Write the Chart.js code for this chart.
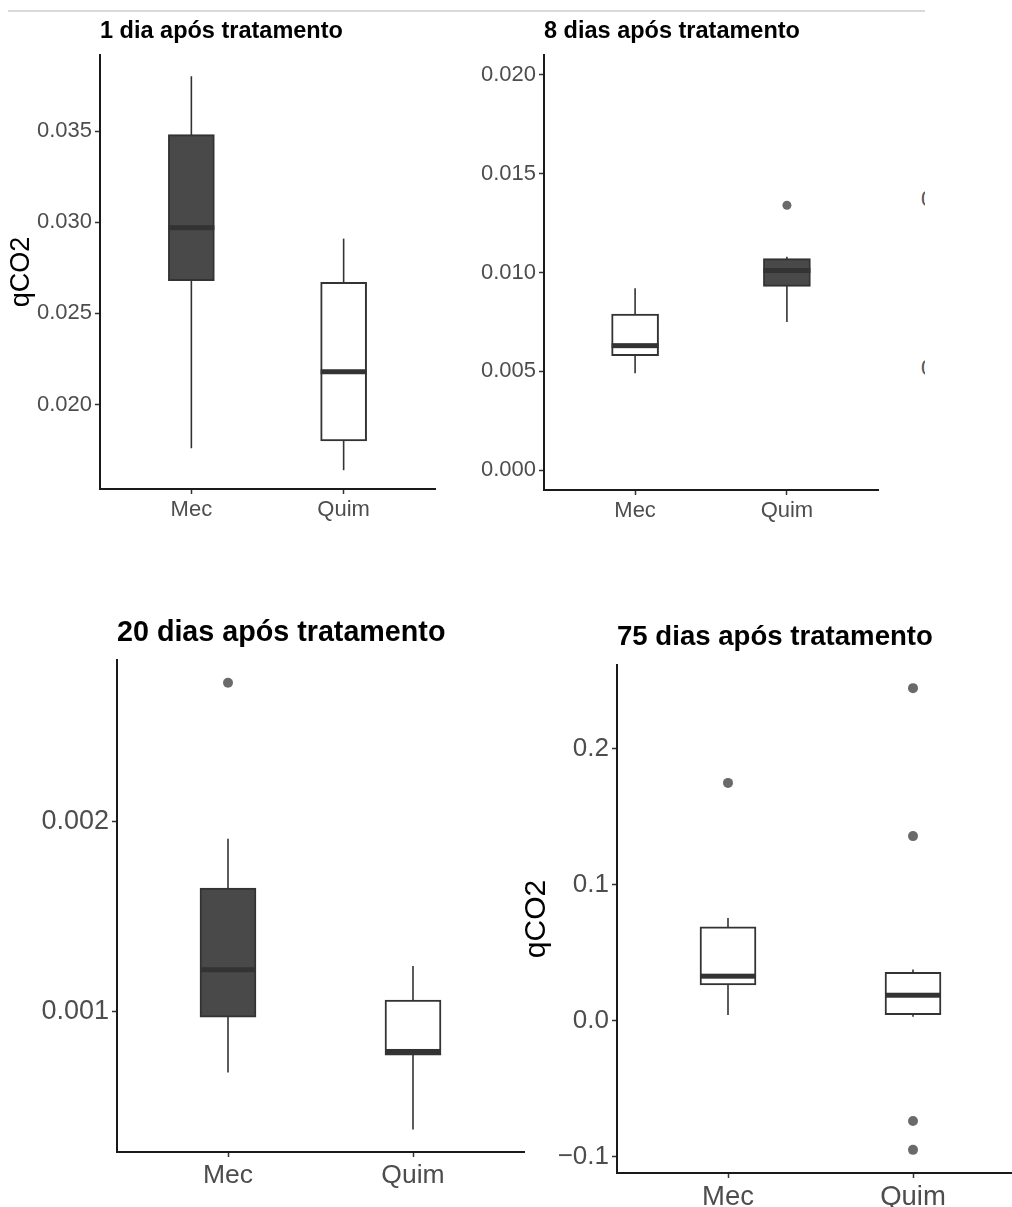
<!DOCTYPE html>
<html>
<head>
<meta charset="utf-8">
<title>qCO2 após tratamento</title>
<script src="https://cdn.jsdelivr.net/npm/chart.js@4.4.1/dist/chart.umd.min.js"></script>
<style>
  html, body { margin: 0; padding: 0; background: #ffffff; }
  #page { position: relative; width: 1012px; height: 1207px; overflow: hidden; background: #ffffff; }
  #page canvas { position: absolute; }
  .rule { position: absolute; left: 8px; top: 10px; width: 917px; height: 2px; background: #dadada; }
  .frag { position: absolute; width: 4px; overflow: hidden; font: 22px 'Liberation Sans', Arial, sans-serif;
          color: #555555; line-height: 24px; white-space: nowrap; }
</style>
</head>
<body>
<div id="page">
  <div class="rule"></div>
  <div class="frag" style="left:921px; top:187px">0</div>
  <div class="frag" style="left:921px; top:356px">0</div>
  <canvas id="c0"></canvas>
  <canvas id="c1"></canvas>
  <canvas id="c2"></canvas>
  <canvas id="c3"></canvas>
</div>
<script>
// ---- data: one entry per panel, each holding [Mec, Quim] ----
const categories = ['Mec', 'Quim'];
const panelTitles = ['1 dia após tratamento', '8 dias após tratamento',
                     '20 dias após tratamento', '75 dias após tratamento'];

const whiskerLow  = [[0.0176, 0.0164], [0.0049, 0.0075], [0.00068, 0.00038], [0.0043, 0.0029]];
const quartile1   = [[0.0268, 0.0180], [0.0058, 0.0093], [0.00097, 0.00077], [0.0264, 0.0046]];
const medians     = [[0.0297, 0.0218], [0.0063, 0.0101], [0.00122, 0.00079], [0.0328, 0.0188]];
const quartile3   = [[0.0348, 0.0267], [0.0079, 0.0107], [0.00165, 0.00106], [0.0690, 0.0356]];
const whiskerHigh = [[0.0380, 0.0291], [0.0092, 0.0108], [0.00191, 0.00124], [0.0756, 0.0377]];
const outliers    = [[[], []], [[], [0.0134]], [[0.00273], []],
                     [[0.1748], [0.2444, 0.1357, -0.0736, -0.0948]]];

const yTicks   = [[0.020, 0.025, 0.030, 0.035], [0.000, 0.005, 0.010, 0.015, 0.020],
                  [0.001, 0.002], [-0.1, 0.0, 0.1, 0.2]];
const yLimits  = [[0.01537, 0.03917], [-0.001, 0.021], [0.000261, 0.00285], [-0.1118, 0.2614]];
const tickDecimals = [3, 3, 3, 1];

// ---- styling and placement of each panel on the page ----
const boxShade = [['#494949', '#ffffff'], ['#ffffff', '#494949'],
                  ['#494949', '#ffffff'], ['#ffffff', '#ffffff']];

const layouts = [
  { left: 0,   top: 0,   width: 470, height: 530, area: { l: 100, r: 435,  t: 55,  b: 489 },
    titleSize: 23.5, titleY: 32,  tickSize: 22, catSize: 22,   boxPx: 46, dotR: 4.5, yTitle: { size: 27, x: 22 } },
  { left: 470, top: 0,   width: 542, height: 530, area: { l: 544, r: 878,  t: 55,  b: 490 },
    titleSize: 23.5, titleY: 32,  tickSize: 22, catSize: 22,   boxPx: 47, dotR: 4.5, yTitle: null },
  { left: 0,   top: 590, width: 530, height: 617, area: { l: 117, r: 524,  t: 660, b: 1152 },
    titleSize: 28.7, titleY: 633, tickSize: 27, catSize: 26.5, boxPx: 56, dotR: 5,   yTitle: null },
  { left: 500, top: 590, width: 530, height: 617, area: { l: 617, r: 1024, t: 665, b: 1173 },
    titleSize: 27.6, titleY: 637, tickSize: 26, catSize: 27.5, boxPx: 56, dotR: 5,   yTitle: { size: 30, x: 537 } }
];

Chart.defaults.font.family = "'Liberation Sans', Arial, Helvetica, sans-serif";

function formatTick(v, p) {
  return v.toFixed(tickDecimals[p]).replace('-', '\u2212');
}

// whiskers behind the boxes, medians on top of them
const boxWhiskers = {
  id: 'boxWhiskers',
  beforeDatasetsDraw(chart, args, opts) {
    const p = opts.panel;
    const { ctx, scales: { x, y } } = chart;
    ctx.save();
    ctx.strokeStyle = '#333333';
    ctx.lineWidth = 1.6;
    categories.forEach((c, i) => {
      const px = x.getPixelForValue(i + 1);
      ctx.beginPath();
      ctx.moveTo(px, y.getPixelForValue(whiskerLow[p][i]));
      ctx.lineTo(px, y.getPixelForValue(whiskerHigh[p][i]));
      ctx.stroke();
    });
    ctx.restore();
  },
  afterDatasetsDraw(chart, args, opts) {
    const p = opts.panel;
    const { ctx, scales: { y } } = chart;
    ctx.save();
    ctx.fillStyle = '#333333';
    chart.getDatasetMeta(0).data.forEach((bar, i) => {
      const { x: bx, width } = bar.getProps(['x', 'width'], true);
      const my = y.getPixelForValue(medians[p][i]);
      ctx.fillRect(bx - width / 2, my - 2.5, width, 5);
    });
    ctx.restore();
  }
};

function makeChart(p) {
  const L = layouts[p];
  const canvas = document.getElementById('c' + p);
  canvas.width = L.width;
  canvas.height = L.height;
  canvas.style.left = L.left + 'px';
  canvas.style.top = L.top + 'px';

  const titleLH = L.titleSize * 1.2;
  const titlePadTop = L.titleY - L.top - titleLH / 2;
  const titlePadBottom = L.area.t - L.top - titlePadTop - titleLH;
  const yWidth = L.area.l - L.left;
  const xHeight = L.top + L.height - L.area.b;

  const boxes = categories.map((c, i) => ({ x: i + 1, y: [quartile1[p][i], quartile3[p][i]] }));
  const dots = [];
  categories.forEach((c, i) => outliers[p][i].forEach(v => dots.push({ x: i + 1, y: v })));

  const yTitle = L.yTitle
    ? { display: true, text: 'qCO2', color: '#000000', font: { size: L.yTitle.size },
        padding: { top: L.yTitle.x - L.left - L.yTitle.size * 0.6, bottom: 0 } }
    : { display: false };

  new Chart(canvas, {
    type: 'bar',
    data: {
      datasets: [
        { type: 'bar', data: boxes, backgroundColor: boxShade[p], borderColor: '#333333',
          borderWidth: 2, borderSkipped: false, barThickness: L.boxPx, order: 2 },
        { type: 'scatter', data: dots, pointRadius: L.dotR, pointBackgroundColor: '#6a6a6a',
          pointBorderWidth: 0, pointHoverRadius: L.dotR, order: 1 }
      ]
    },
    options: {
      responsive: false,
      animation: false,
      devicePixelRatio: 1,
      events: [],
      layout: { padding: { left: 0, top: 0, bottom: 0, right: L.left + L.width - L.area.r } },
      plugins: {
        legend: { display: false },
        tooltip: { enabled: false },
        title: {
          display: true, text: panelTitles[p], align: 'start', fullSize: false,
          color: '#000000', font: { size: L.titleSize, weight: 'bold' },
          padding: { top: titlePadTop, bottom: titlePadBottom }
        },
        boxWhiskers: { panel: p }
      },
      scales: {
        x: {
          type: 'linear', min: 0.4, max: 2.6, offset: false,
          afterBuildTicks: s => { s.ticks = categories.map((c, i) => ({ value: i + 1 })); },
          afterFit: s => { s.height = xHeight; },
          ticks: { callback: v => categories[v - 1], color: '#4d4d4d', font: { size: L.catSize },
                   padding: 3, maxRotation: 0, autoSkip: false },
          grid: { display: true, drawOnChartArea: false, drawTicks: true, tickLength: 5,
                  tickColor: '#333333', tickWidth: 1.5, offset: false },
          border: { display: true, color: '#1a1a1a', width: 2 }
        },
        y: {
          type: 'linear', min: yLimits[p][0], max: yLimits[p][1],
          afterBuildTicks: s => { s.ticks = yTicks[p].map(v => ({ value: v })); },
          afterFit: s => { s.width = yWidth; },
          ticks: { callback: v => formatTick(v, p), color: '#4d4d4d', font: { size: L.tickSize },
                   padding: 3, autoSkip: false },
          title: yTitle,
          grid: { display: true, drawOnChartArea: false, drawTicks: true, tickLength: 5,
                  tickColor: '#333333', tickWidth: 1.5 },
          border: { display: true, color: '#1a1a1a', width: 2 }
        }
      }
    },
    plugins: [boxWhiskers]
  });
}

[0, 1, 2, 3].forEach(makeChart);
</script>
</body>
</html>
